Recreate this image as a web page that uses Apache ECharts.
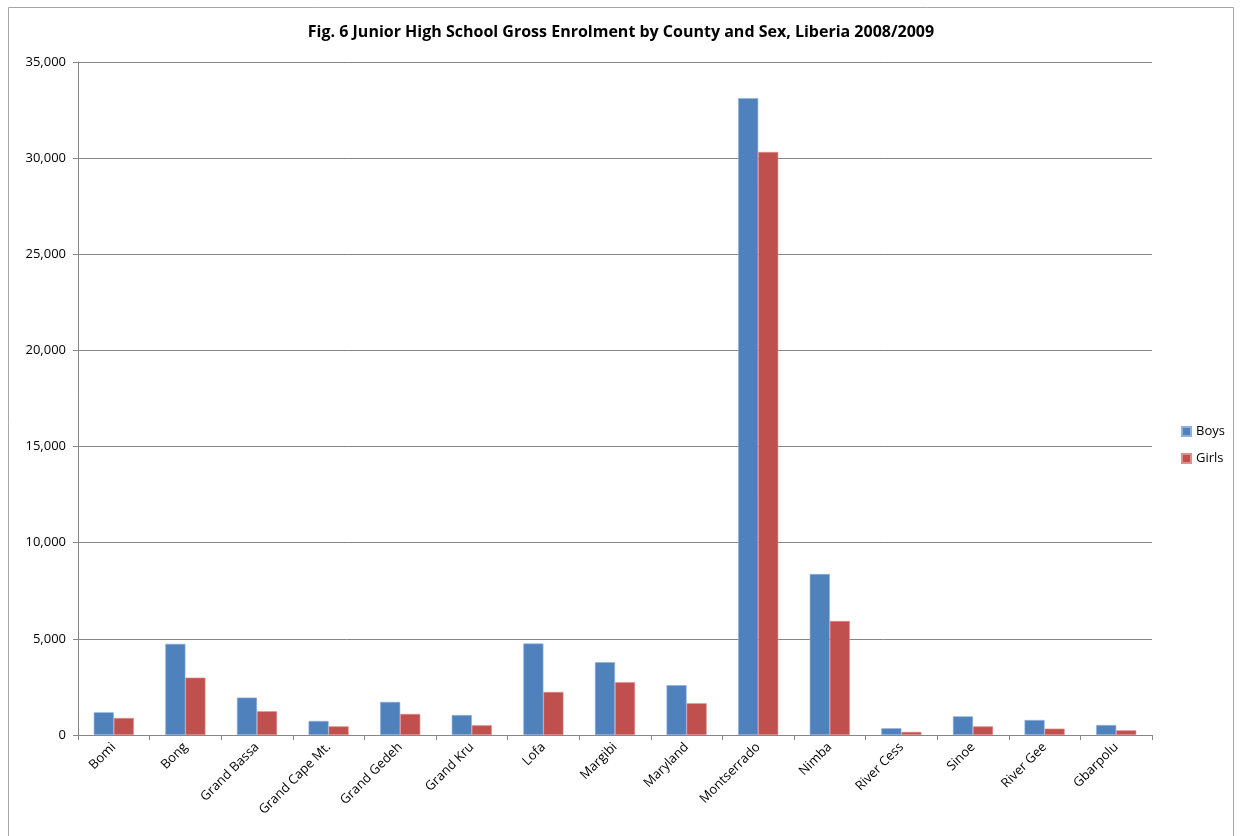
<!DOCTYPE html>
<html><head><meta charset="utf-8">
<script src="https://cdn.jsdelivr.net/npm/echarts@6/dist/echarts.min.js"></script>
<style>html,body{margin:0;padding:0;background:#fff}#c{width:1242px;height:836px}</style>
</head><body><div id="c"></div>
<script>
const categories = ["Bomi","Bong","Grand Bassa","Grand Cape Mt.","Grand Gedeh","Grand Kru","Lofa","Margibi","Maryland","Montserrado","Nimba","River Cess","Sinoe","River Gee","Gbarpolu"];
const boys  = [1180, 4740, 1945, 730, 1720, 1040, 4755, 3785, 2590, 33120, 8370, 350, 970, 780, 520];
const girls = [885, 2985, 1235, 450, 1095, 505, 2240, 2745, 1650, 30320, 5925, 160, 450, 330, 245];
const seriesNames = ["Boys","Girls"];
const titleText = "Fig. 6 Junior High School Gross Enrolment by County and Sex, Liberia 2008/2009";

const chart = echarts.init(document.getElementById('c'));
const font = "'Open Sans', 'Liberation Sans', sans-serif";
chart.setOption({
  animation:false,
  textStyle:{fontFamily:font},
  graphic:[{type:'rect',shape:{x:8.5,y:7.5,width:1225,height:840},style:{fill:null,stroke:'#a6a6a6',lineWidth:1},silent:true}],
  title:{text:titleText,left:'center',top:19,textStyle:{fontFamily:font,fontSize:16,fontWeight:'bold',color:'#000'}},
  legend:{data:seriesNames,orient:'vertical',left:1176,top:420,itemWidth:9,itemHeight:9,itemGap:14,icon:'rect',
    textStyle:{fontFamily:font,fontSize:13,color:'#000'}},
  grid:{left:78,right:90,top:62,bottom:101,containLabel:false},
  xAxis:{type:'category',data:categories,
    axisLine:{lineStyle:{color:'#868686'}},
    axisTick:{show:true,length:5,lineStyle:{color:'#868686'}},
    axisLabel:{rotate:45,color:'#000',fontSize:13,fontFamily:font,margin:10,interval:0}},
  yAxis:{type:'value',min:0,max:35000,interval:5000,
    axisLine:{show:true,lineStyle:{color:'#868686'}},
    axisTick:{show:true,length:5,lineStyle:{color:'#868686'}},
    splitLine:{lineStyle:{color:'#868686'}},
    axisLabel:{color:'#000',fontSize:13,fontFamily:font,margin:12,
      formatter:v=>v.toLocaleString('en-US')}},
  series:[
    {name:seriesNames[0],type:'bar',data:boys,barGap:'0%',barCategoryGap:'44%',
      itemStyle:{color:'#4F81BD',borderColor:'#8fb0dc',borderWidth:0.6}},
    {name:seriesNames[1],type:'bar',data:girls,
      itemStyle:{color:'#C0504D',borderColor:'#e08f8d',borderWidth:0.6}}
  ]
});
</script></body></html>
